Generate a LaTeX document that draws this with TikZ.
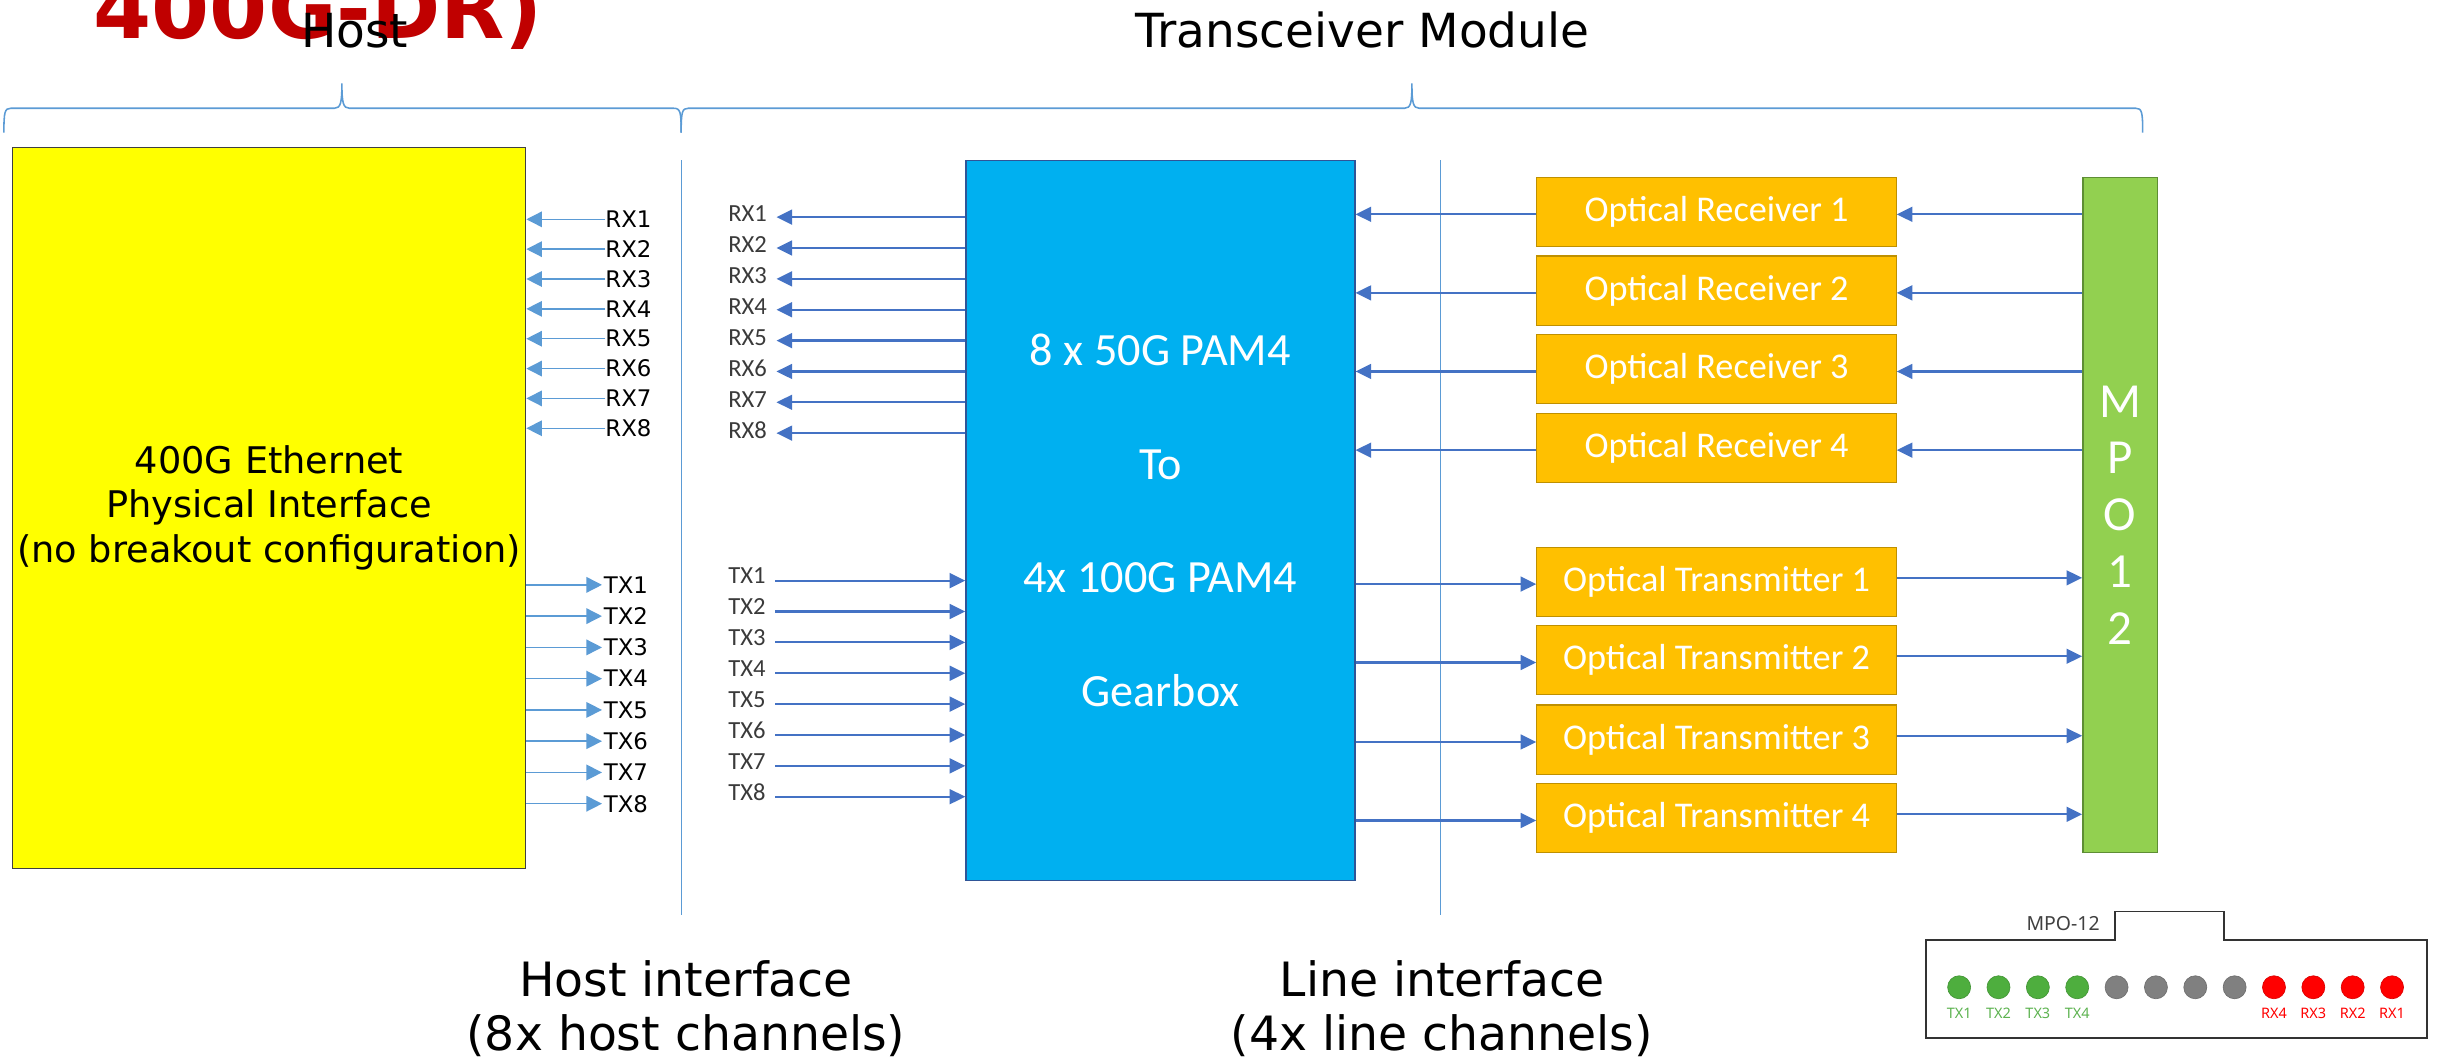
\documentclass[tikz,border=0pt]{standalone}
\usepackage{fontspec}
\setmainfont{DejaVu Sans}
\newfontfamily\carlito{Carlito}
\newfontfamily\notosans{Noto Sans}
\usetikzlibrary{arrows.meta,calc}
\definecolor{lblue}{HTML}{5B9BD5}
\definecolor{mblue}{HTML}{4472C4}
\definecolor{gbfill}{HTML}{00B0F0}
\definecolor{gbdraw}{HTML}{2F5597}
\definecolor{ofill}{HTML}{FFC000}
\definecolor{odraw}{HTML}{BF9000}
\definecolor{gfill}{HTML}{92D050}
\definecolor{gdraw}{HTML}{5E8E34}
\definecolor{titlered}{HTML}{C00000}
\definecolor{dotgreen}{HTML}{4EAE3E}
\definecolor{txtgreen}{HTML}{5DB350}
\definecolor{dotgray}{HTML}{808080}
\definecolor{dotred}{HTML}{FF0000}
\definecolor{lblgray}{HTML}{3A3A3A}
\definecolor{hostyellow}{HTML}{FFFF00}
\begin{document}
\begin{tikzpicture}[x=1pt,y=-1pt,
  hostarr/.style={draw=lblue, line width=0.9pt, -{Triangle[length=10pt,width=10pt]}},
  modarr/.style={draw=mblue, line width=1.4pt, -{Triangle[length=10pt,width=9.5pt]}},
  hostlbl/.style={font=\fontsize{14.7}{16}\selectfont, inner sep=0pt, anchor=west},
  modlbl/.style={font=\carlito\fontsize{15.8}{17}\selectfont, text=lblgray, inner sep=0pt, anchor=west},
  optbox/.style={draw=odraw, fill=ofill, line width=0.8pt, minimum width=231pt, minimum height=44.5pt, inner sep=0pt, text=white, font=\carlito\fontsize{23.3}{26}\selectfont},
  brc/.style={draw=lblue, line width=1pt},
  divl/.style={draw=lblue, line width=1pt},
  bigtxt/.style={font=\fontsize{30.4}{35}\selectfont, inner sep=0pt, align=center},
  conn/.style={draw=black!80, line width=1.2pt},
  dotstyle/.style={circle, inner sep=0pt, minimum size=14.8pt},
  dotlbl/.style={font=\notosans\fontsize{9.3}{10}\selectfont, inner sep=0pt}
]
\fill[white] (0,0) rectangle (1568,684);
\useasboundingbox (0,0) rectangle (1568,684);

% clipped red title
\begin{scope}
\clip (0,0) rectangle (1568,684);
\node[font=\bfseries\fontsize{53.7}{60}\selectfont, text=titlered, anchor=base west, inner sep=0pt] (title) at (60,24.6) {400G-DR)};
\end{scope}

\node[font=\fontsize{30.2}{34}\selectfont, anchor=base, inner sep=0pt] (hostt) at (228,30.6) {Host};
\node[font=\fontsize{30.2}{34}\selectfont, anchor=base, inner sep=0pt] (tmt) at (876,30.6) {Transceiver Module};

% braces
\draw[brc] (2.5,85.3) .. controls (2.5,72) and (3,69.6) .. (7,69.6) -- (215,69.6)
  .. controls (219,69.6) and (219.8,66) .. (219.8,53.6)
  .. controls (219.8,66) and (220.6,69.6) .. (224.6,69.6) -- (433,69.6)
  .. controls (437.5,69.6) and (437.9,72) .. (437.9,85.3);
\draw[brc] (437.9,85.3) .. controls (437.9,72) and (438.5,69.6) .. (442.5,69.6) -- (903,69.6)
  .. controls (907,69.6) and (907.7,66) .. (907.7,53.6)
  .. controls (907.7,66) and (908.4,69.6) .. (912.4,69.6) -- (1373,69.6)
  .. controls (1377,69.6) and (1377.5,72) .. (1377.5,85.3);

% dividers
\draw[divl] (438,103) -- (438,588);
\draw[divl] (926,103) -- (926,588);

% host box
\node[draw=black!75, fill=hostyellow, line width=0.8pt, minimum width=330pt, minimum height=463.5pt, inner sep=0pt, align=center, font=\fontsize{23.6}{28.5}\selectfont] (host) at (173,326.5) {400G Ethernet\\Physical Interface\\(no breakout configuration)};

% host RX / TX
\foreach \i in {1,...,8} {
  \node[hostlbl] (hrx\i) at (389,{141+19.19*(\i-1)}) {RX\i};
  \draw[hostarr] (hrx\i.west) -- (hrx\i.west -| host.east);
  \node[hostlbl] (htx\i) at (388,{376+20.1*(\i-1)}) {TX\i};
  \draw[hostarr] (htx\i.west -| host.east) -- ([xshift=-1pt]htx\i.west);
}

% gearbox
\node[draw=gbdraw, fill=gbfill, line width=0.9pt, minimum width=250pt, minimum height=463pt, inner sep=0pt, text=white, font=\carlito\fontsize{29.7}{73}\selectfont, align=center] (gb) at (746,334.5) {8 x 50G PAM4\\To\\4x 100G PAM4\\Gearbox};

% module RX / TX labels
\foreach \i in {1,...,8} {
  \node[modlbl] (mrx\i) at (468,{137.6+19.84*(\i-1)}) {RX\i};
  \coordinate (mrxt\i) at ($(mrx\i.east)+(6,2)$);
  \draw[modarr] (mrxt\i -| gb.west) -- (mrxt\i);
  \node[modlbl] (mtx\i) at (468,{370.3+19.84*(\i-1)}) {TX\i};
  \coordinate (mtxs\i) at ($(mtx\i.east)+(6,3)$);
  \draw[modarr] (mtxs\i) -- (mtxs\i -| gb.west);
}

% MPO
\node[draw=gdraw, fill=gfill, line width=0.9pt, minimum width=48pt, minimum height=434pt, inner sep=0pt, text=white, font=\carlito\fontsize{31.5}{36.5}\selectfont, align=center] (mpo) at (1363,331) {M\\P\\O\\1\\2};

% optical receivers / transmitters
\foreach \i/\y in {1/136.3,2/186.8,3/237.3,4/287.9} {
  \node[optbox] (or\i) at (1103.5,\y) {Optical Receiver \i};
  \coordinate (orl\i) at ($(or\i.west)+(0,1.5)$);
  \coordinate (orr\i) at ($(or\i.east)+(0,1.5)$);
  \draw[modarr] (orl\i) -- (orl\i -| gb.east);
  \draw[modarr] (orr\i -| mpo.west) -- (orr\i);
}
\foreach \i/\y in {1/374,2/424.4,3/475.5,4/526} {
  \node[optbox] (ot\i) at (1103.5,\y) {Optical Transmitter \i};
  \coordinate (otl\i) at ($(ot\i.west)+(0,1.5)$);
  \coordinate (otr\i) at ($(ot\i.east)+(0,-2.5)$);
  \draw[modarr] (otl\i -| gb.east) -- (otl\i);
  \draw[modarr] (otr\i) -- (otr\i -| mpo.west);
}

% bottom labels
\node[bigtxt] (hif) at (441,648.5) {Host interface\\(8x host channels)};
\node[bigtxt] (lif) at (927,648.5) {Line interface\\(4x line channels)};

% MPO-12 connector face
\draw[conn] (1238,604.3) -- (1359.6,604.3) -- (1359.6,586) -- (1430,586) -- (1430,604.3) -- (1560,604.3) -- (1560,667.5) -- (1238,667.5) -- cycle;
\node[font=\notosans\fontsize{12.5}{14}\selectfont, text=black!75, anchor=east, inner sep=0pt] (mpolbl) at (1350,593.5) {MPO-12};
\foreach \i/\col in {0/dotgreen,1/dotgreen,2/dotgreen,3/dotgreen,4/dotgray,5/dotgray,6/dotgray,7/dotgray,8/dotred,9/dotred,10/dotred,11/dotred} {
  \node[dotstyle, fill=\col, draw=\col!85!black, line width=0.4pt] (d\i) at ({1259.5+25.3*\i},634.7) {};
}
\foreach \i/\t in {0/TX1,1/TX2,2/TX3,3/TX4} {
  \node[dotlbl, text=txtgreen] (dl\i) at ($(d\i)+(0,16.7)$) {\t};
}
\foreach \i/\t in {8/RX4,9/RX3,10/RX2,11/RX1} {
  \node[dotlbl, text=dotred] (dl\i) at ($(d\i)+(0,16.7)$) {\t};
}
\end{tikzpicture}
\end{document}
